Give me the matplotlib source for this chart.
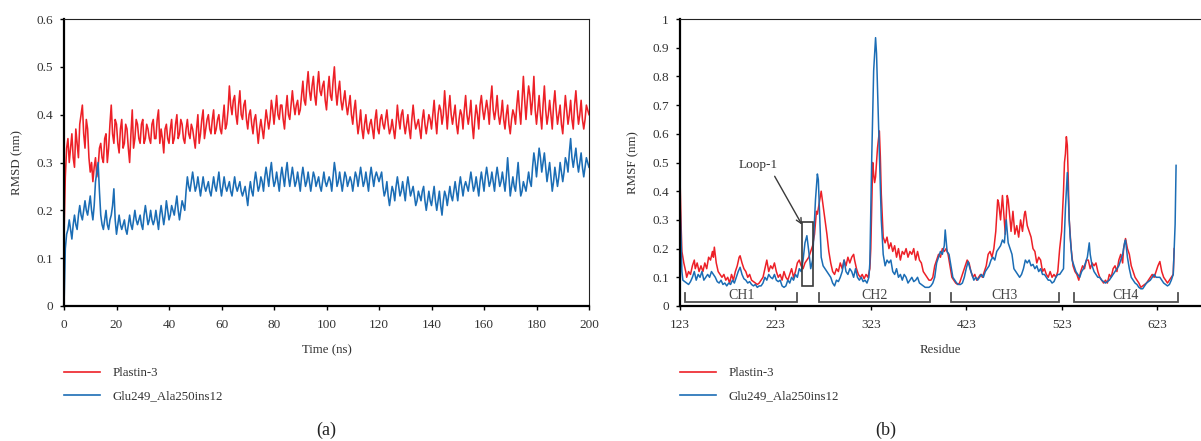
import matplotlib
matplotlib.use("Agg")
import matplotlib.pyplot as plt
from matplotlib.patches import Rectangle
import numpy as np

plt.rcParams['font.family'] = ['Liberation Serif', 'DejaVu Serif']

# ---------------- data: RMSD (panel a) ----------------
# values read at whole nanoseconds ...
time_ns = list(range(0, 201))
rmsd_wt = [0.15, 0.33, 0.30, 0.36, 0.29, 0.34, 0.38, 0.42, 0.33, 0.37,
           0.28, 0.26, 0.31, 0.29, 0.34, 0.30, 0.36, 0.33, 0.42, 0.34,
           0.38, 0.32, 0.39, 0.34, 0.37, 0.30, 0.41, 0.35, 0.38, 0.34,
           0.39, 0.35, 0.37, 0.34, 0.39, 0.35, 0.41, 0.37, 0.32, 0.38,
           0.34, 0.39, 0.35, 0.40, 0.36, 0.38, 0.34, 0.39, 0.35, 0.37,
           0.33, 0.40, 0.36, 0.41, 0.37, 0.40, 0.36, 0.41, 0.37, 0.40,
           0.36, 0.42, 0.38, 0.46, 0.40, 0.44, 0.38, 0.45, 0.39, 0.43,
           0.37, 0.41, 0.36, 0.40, 0.34, 0.39, 0.35, 0.41, 0.37, 0.43,
           0.38, 0.44, 0.39, 0.42, 0.37, 0.44, 0.39, 0.45, 0.40, 0.43,
           0.41, 0.47, 0.42, 0.49, 0.43, 0.48, 0.42, 0.49, 0.44, 0.47,
           0.41, 0.48, 0.43, 0.50, 0.42, 0.47, 0.41, 0.45, 0.40, 0.44,
           0.38, 0.43, 0.36, 0.41, 0.35, 0.40, 0.36, 0.39, 0.35, 0.41,
           0.36, 0.40, 0.37, 0.41, 0.36, 0.39, 0.35, 0.42, 0.37, 0.41,
           0.36, 0.40, 0.35, 0.42, 0.37, 0.39, 0.35, 0.41, 0.36, 0.40,
           0.37, 0.43, 0.36, 0.42, 0.38, 0.45, 0.37, 0.44, 0.38, 0.42,
           0.36, 0.41, 0.37, 0.44, 0.38, 0.43, 0.35, 0.42, 0.37, 0.44,
           0.39, 0.43, 0.38, 0.46, 0.39, 0.44, 0.38, 0.43, 0.37, 0.42,
           0.36, 0.41, 0.38, 0.45, 0.38, 0.48, 0.39, 0.46, 0.40, 0.48,
           0.38, 0.44, 0.37, 0.46, 0.38, 0.43, 0.37, 0.45, 0.38, 0.42,
           0.36, 0.44, 0.38, 0.43, 0.37, 0.45, 0.38, 0.43, 0.37, 0.42,
           0.40]
rmsd_mut = [0.00, 0.15, 0.18, 0.14, 0.19, 0.16, 0.21, 0.18, 0.22, 0.19,
            0.23, 0.18, 0.26, 0.30, 0.19, 0.16, 0.20, 0.16, 0.19, 0.245,
            0.15, 0.19, 0.16, 0.18, 0.15, 0.19, 0.16, 0.20, 0.17, 0.19,
            0.16, 0.21, 0.17, 0.20, 0.17, 0.20, 0.16, 0.21, 0.17, 0.22,
            0.18, 0.21, 0.19, 0.23, 0.18, 0.22, 0.20, 0.27, 0.24, 0.28,
            0.24, 0.27, 0.23, 0.27, 0.24, 0.26, 0.23, 0.27, 0.24, 0.28,
            0.23, 0.27, 0.24, 0.26, 0.23, 0.27, 0.24, 0.26, 0.23, 0.25,
            0.21, 0.26, 0.23, 0.28, 0.24, 0.27, 0.24, 0.29, 0.25, 0.30,
            0.25, 0.28, 0.24, 0.29, 0.25, 0.30, 0.25, 0.29, 0.25, 0.28,
            0.24, 0.29, 0.25, 0.28, 0.24, 0.28, 0.25, 0.27, 0.24, 0.28,
            0.25, 0.27, 0.24, 0.30, 0.25, 0.28, 0.24, 0.28, 0.25, 0.27,
            0.24, 0.28, 0.25, 0.29, 0.25, 0.28, 0.24, 0.29, 0.25, 0.28,
            0.26, 0.28, 0.23, 0.26, 0.21, 0.25, 0.22, 0.27, 0.23, 0.26,
            0.22, 0.27, 0.23, 0.25, 0.21, 0.24, 0.22, 0.25, 0.20, 0.24,
            0.21, 0.25, 0.20, 0.24, 0.19, 0.24, 0.21, 0.25, 0.22, 0.26,
            0.22, 0.27, 0.23, 0.26, 0.24, 0.28, 0.24, 0.27, 0.23, 0.28,
            0.24, 0.29, 0.25, 0.28, 0.24, 0.29, 0.25, 0.28, 0.24, 0.31,
            0.23, 0.27, 0.24, 0.30, 0.23, 0.26, 0.24, 0.28, 0.25, 0.32,
            0.27, 0.33, 0.28, 0.32, 0.26, 0.30, 0.24, 0.29, 0.25, 0.30,
            0.26, 0.31, 0.28, 0.35, 0.29, 0.33, 0.28, 0.32, 0.27, 0.31,
            0.29]
# ... and at the half nanoseconds in between
time_half = [t + 0.5 for t in range(0, 200)]
rmsd_wt_half = [0.27, 0.35, 0.33, 0.31, 0.37, 0.31, 0.40, 0.36, 0.39, 0.31,
                0.30, 0.29, 0.27, 0.33, 0.31, 0.35, 0.30, 0.38, 0.36, 0.39,
                0.34, 0.37, 0.33, 0.38, 0.33, 0.36, 0.33, 0.39, 0.35, 0.38,
                0.34, 0.38, 0.35, 0.38, 0.35, 0.39, 0.34, 0.35, 0.37, 0.35,
                0.37, 0.34, 0.38, 0.35, 0.39, 0.35, 0.37, 0.36, 0.38, 0.35,
                0.37, 0.34, 0.39, 0.35, 0.39, 0.37, 0.39, 0.36, 0.39, 0.37,
                0.39, 0.37, 0.41, 0.42, 0.43, 0.40, 0.42, 0.40, 0.42, 0.39,
                0.40, 0.38, 0.39, 0.37, 0.37, 0.37, 0.38, 0.39, 0.39, 0.41,
                0.41, 0.40, 0.42, 0.39, 0.41, 0.40, 0.42, 0.42, 0.42, 0.40,
                0.44, 0.43, 0.46, 0.45, 0.46, 0.44, 0.46, 0.45, 0.46, 0.43,
                0.45, 0.44, 0.47, 0.45, 0.45, 0.43, 0.43, 0.42, 0.42, 0.40,
                0.41, 0.39, 0.38, 0.37, 0.38, 0.37, 0.38, 0.37, 0.39, 0.37,
                0.39, 0.38, 0.39, 0.38, 0.37, 0.37, 0.38, 0.39, 0.40, 0.38,
                0.38, 0.37, 0.39, 0.39, 0.38, 0.37, 0.39, 0.38, 0.38, 0.39,
                0.40, 0.39, 0.40, 0.41, 0.40, 0.41, 0.41, 0.40, 0.40, 0.38,
                0.39, 0.40, 0.41, 0.40, 0.40, 0.38, 0.39, 0.40, 0.42, 0.41,
                0.41, 0.41, 0.43, 0.41, 0.41, 0.40, 0.40, 0.39, 0.40, 0.38,
                0.39, 0.40, 0.42, 0.41, 0.43, 0.43, 0.43, 0.44, 0.43, 0.41,
                0.41, 0.40, 0.42, 0.41, 0.40, 0.40, 0.42, 0.41, 0.40, 0.38,
                0.40, 0.41, 0.40, 0.39, 0.42, 0.41, 0.40, 0.39, 0.39, 0.41]
rmsd_mut_half = [0.12, 0.16, 0.16, 0.17, 0.17, 0.19, 0.19, 0.20, 0.20, 0.21,
                 0.20, 0.21, 0.28, 0.24, 0.17, 0.18, 0.17, 0.18, 0.21, 0.18,
                 0.17, 0.17, 0.17, 0.16, 0.17, 0.17, 0.18, 0.18, 0.18, 0.17,
                 0.19, 0.19, 0.18, 0.18, 0.18, 0.18, 0.19, 0.19, 0.19, 0.20,
                 0.19, 0.20, 0.21, 0.20, 0.20, 0.21, 0.24, 0.25, 0.26, 0.26,
                 0.25, 0.25, 0.25, 0.25, 0.25, 0.24, 0.25, 0.25, 0.26, 0.25,
                 0.25, 0.25, 0.25, 0.24, 0.25, 0.25, 0.25, 0.24, 0.24, 0.23,
                 0.24, 0.24, 0.26, 0.26, 0.25, 0.26, 0.27, 0.27, 0.28, 0.27,
                 0.26, 0.26, 0.27, 0.27, 0.28, 0.27, 0.27, 0.27, 0.26, 0.26,
                 0.27, 0.27, 0.26, 0.26, 0.26, 0.27, 0.26, 0.25, 0.26, 0.26,
                 0.26, 0.26, 0.27, 0.28, 0.26, 0.26, 0.26, 0.27, 0.26, 0.26,
                 0.26, 0.27, 0.27, 0.27, 0.26, 0.26, 0.27, 0.27, 0.27, 0.27,
                 0.27, 0.25, 0.24, 0.23, 0.23, 0.24, 0.25, 0.25, 0.24, 0.24,
                 0.25, 0.25, 0.24, 0.23, 0.22, 0.23, 0.24, 0.22, 0.22, 0.22,
                 0.23, 0.22, 0.22, 0.21, 0.22, 0.23, 0.23, 0.23, 0.24, 0.24,
                 0.25, 0.25, 0.25, 0.25, 0.26, 0.26, 0.25, 0.25, 0.26, 0.26,
                 0.27, 0.27, 0.26, 0.26, 0.27, 0.27, 0.26, 0.26, 0.27, 0.27,
                 0.25, 0.25, 0.27, 0.26, 0.24, 0.25, 0.26, 0.26, 0.29, 0.30,
                 0.30, 0.31, 0.30, 0.29, 0.28, 0.27, 0.26, 0.27, 0.27, 0.28,
                 0.28, 0.30, 0.32, 0.31, 0.31, 0.30, 0.30, 0.29, 0.29, 0.30]

# ---------------- data: RMSF (panel b) ----------------
res_wt = [123, 124, 125, 127, 129, 130, 132, 134, 136, 138, 139, 141, 143, 145, 147, 149,
          151, 153, 155, 157, 158, 159, 161, 163, 165, 167, 169, 171, 173, 175, 177, 179,
          181, 183, 185, 186, 188, 190, 192, 194, 196, 198, 200, 202, 204, 206, 208, 210,
          212, 214, 216, 218, 220, 222, 224, 226, 228, 230, 232, 234, 236, 238, 240, 242,
          244, 246, 248, 250, 252, 254, 256, 258, 260, 262, 264, 266, 267, 269, 271, 273,
          275, 277, 279, 281, 283, 285, 287, 289, 291, 293, 295, 297, 299, 301, 303, 305,
          306, 308, 310, 312, 314, 316, 318, 320, 322, 323, 324, 325, 326, 327, 328, 330,
          332, 333, 334, 336, 338, 340, 342, 344, 346, 348, 350, 352, 354, 356, 358, 360,
          362, 364, 366, 368, 370, 372, 374, 376, 378, 380, 382, 384, 386, 388, 390, 392,
          394, 396, 398, 400, 402, 404, 406, 408, 410, 412, 414, 416, 418, 420, 422, 424,
          426, 428, 430, 432, 434, 436, 438, 440, 442, 444, 446, 448, 450, 452, 454, 456,
          457, 459, 461, 462, 464, 466, 467, 469, 470, 472, 474, 476, 478, 480, 482, 484,
          485, 487, 489, 491, 493, 495, 497, 499, 501, 503, 505, 507, 509, 511, 513, 515,
          517, 519, 521, 523, 525, 526, 527, 528, 529, 530, 531, 533, 535, 537, 539, 541,
          543, 545, 547, 549, 551, 553, 555, 557, 559, 561, 563, 565, 567, 569, 571, 573,
          575, 577, 579, 581, 583, 585, 587, 588, 590, 592, 594, 596, 598, 600, 602, 604,
          606, 608, 610, 612, 614, 616, 618, 620, 622, 624, 626, 628, 630, 632, 634, 636,
          638, 640, 641]
rmsf_wt = [0.45, 0.30, 0.19, 0.15, 0.12, 0.10, 0.12, 0.11, 0.14, 0.16, 0.13, 0.15, 0.12, 0.14, 0.12, 0.15,
           0.13, 0.17, 0.16, 0.19, 0.17, 0.205, 0.15, 0.12, 0.11, 0.10, 0.11, 0.09, 0.10, 0.08, 0.11, 0.09,
           0.12, 0.14, 0.17, 0.175, 0.15, 0.13, 0.12, 0.10, 0.11, 0.09, 0.085, 0.08, 0.075, 0.08, 0.09, 0.10,
           0.13, 0.16, 0.12, 0.14, 0.13, 0.15, 0.12, 0.10, 0.11, 0.09, 0.12, 0.10, 0.09, 0.11, 0.13, 0.10,
           0.12, 0.15, 0.16, 0.14, 0.13, 0.15, 0.16, 0.17, 0.19, 0.21, 0.25, 0.33, 0.32, 0.36, 0.40, 0.35,
           0.30, 0.25, 0.19, 0.15, 0.12, 0.11, 0.13, 0.12, 0.15, 0.13, 0.16, 0.14, 0.17, 0.15, 0.17, 0.18,
           0.16, 0.13, 0.11, 0.10, 0.11, 0.095, 0.11, 0.10, 0.13, 0.20, 0.35, 0.50, 0.46, 0.43, 0.45, 0.55,
           0.61, 0.52, 0.39, 0.24, 0.22, 0.24, 0.20, 0.22, 0.19, 0.21, 0.17, 0.20, 0.16, 0.19, 0.18, 0.20,
           0.17, 0.19, 0.18, 0.20, 0.16, 0.19, 0.16, 0.15, 0.12, 0.11, 0.10, 0.09, 0.09, 0.10, 0.14, 0.16,
           0.18, 0.17, 0.20, 0.19, 0.20, 0.18, 0.14, 0.10, 0.09, 0.08, 0.075, 0.08, 0.10, 0.12, 0.14, 0.16,
           0.15, 0.12, 0.10, 0.11, 0.09, 0.10, 0.11, 0.10, 0.12, 0.14, 0.18, 0.19, 0.17, 0.20, 0.26, 0.37,
           0.36, 0.30, 0.385, 0.34, 0.25, 0.385, 0.37, 0.30, 0.26, 0.33, 0.25, 0.28, 0.24, 0.30, 0.26, 0.32,
           0.33, 0.28, 0.26, 0.24, 0.20, 0.19, 0.15, 0.17, 0.16, 0.12, 0.13, 0.11, 0.10, 0.12, 0.10, 0.11,
           0.10, 0.12, 0.20, 0.26, 0.40, 0.50, 0.53, 0.59, 0.56, 0.44, 0.30, 0.20, 0.14, 0.12, 0.11, 0.09,
           0.12, 0.14, 0.13, 0.16, 0.16, 0.13, 0.15, 0.14, 0.15, 0.12, 0.10, 0.09, 0.08, 0.09, 0.08, 0.11,
           0.10, 0.13, 0.14, 0.12, 0.16, 0.18, 0.15, 0.20, 0.235, 0.20, 0.18, 0.14, 0.12, 0.10, 0.09, 0.08,
           0.065, 0.07, 0.075, 0.08, 0.09, 0.10, 0.11, 0.10, 0.12, 0.14, 0.155, 0.12, 0.10, 0.09, 0.08, 0.09,
           0.10, 0.11, 0.20]

res_mut = [123, 124, 125, 126, 128, 130, 132, 134, 136, 138, 140, 142, 144, 146, 148, 150,
           152, 154, 156, 158, 160, 162, 164, 166, 168, 170, 172, 174, 176, 178, 180, 182,
           184, 186, 188, 190, 192, 194, 196, 198, 200, 202, 204, 206, 208, 210, 212, 214,
           216, 218, 220, 222, 224, 226, 228, 230, 232, 234, 236, 238, 240, 242, 244, 246,
           248, 250, 252, 254, 256, 258, 260, 262, 264, 265, 267, 268, 270, 271, 273, 275,
           277, 279, 281, 283, 285, 287, 289, 291, 293, 295, 297, 299, 301, 303, 305, 307,
           309, 311, 313, 315, 317, 319, 321, 322, 324, 326, 328, 329, 330, 332, 334, 336,
           338, 340, 342, 344, 346, 348, 350, 352, 354, 356, 358, 360, 362, 364, 366, 368,
           370, 372, 374, 376, 378, 380, 382, 384, 386, 388, 390, 392, 394, 396, 398, 400,
           401, 403, 405, 407, 409, 411, 413, 415, 417, 419, 421, 423, 425, 427, 429, 431,
           433, 435, 437, 439, 441, 443, 445, 447, 449, 451, 453, 455, 457, 459, 461, 463,
           465, 467, 469, 471, 473, 475, 477, 479, 481, 483, 485, 487, 489, 491, 493, 495,
           497, 499, 501, 503, 505, 507, 509, 511, 513, 515, 517, 519, 521, 523, 525, 526,
           527, 529, 530, 531, 532, 534, 536, 538, 540, 542, 544, 546, 548, 550, 552, 553,
           555, 557, 559, 561, 563, 565, 567, 569, 571, 573, 575, 577, 579, 581, 583, 585,
           587, 589, 590, 592, 594, 596, 598, 600, 602, 604, 606, 608, 610, 612, 614, 616,
           618, 620, 622, 624, 626, 628, 630, 632, 634, 636, 638, 640, 642, 643]
rmsf_mut = [0.37, 0.25, 0.12, 0.09, 0.085, 0.08, 0.075, 0.085, 0.10, 0.12, 0.09, 0.11, 0.10, 0.12, 0.09, 0.10,
            0.11, 0.10, 0.12, 0.11, 0.10, 0.085, 0.08, 0.09, 0.075, 0.08, 0.07, 0.08, 0.075, 0.09, 0.08, 0.10,
            0.12, 0.135, 0.11, 0.095, 0.09, 0.08, 0.085, 0.075, 0.07, 0.075, 0.065, 0.07, 0.07, 0.08, 0.10, 0.09,
            0.11, 0.10, 0.095, 0.11, 0.09, 0.085, 0.09, 0.07, 0.065, 0.07, 0.09, 0.08, 0.10, 0.09, 0.11, 0.10,
            0.13, 0.12, 0.16, 0.22, 0.245, 0.19, 0.13, 0.16, 0.30, 0.37, 0.46, 0.44, 0.26, 0.17, 0.14, 0.13,
            0.12, 0.11, 0.10, 0.08, 0.07, 0.09, 0.085, 0.10, 0.12, 0.16, 0.12, 0.11, 0.13, 0.12, 0.10, 0.13,
            0.10, 0.09, 0.10, 0.085, 0.09, 0.08, 0.10, 0.15, 0.52, 0.82, 0.935, 0.88, 0.76, 0.53, 0.30, 0.18,
            0.14, 0.16, 0.15, 0.16, 0.12, 0.11, 0.13, 0.10, 0.11, 0.09, 0.11, 0.10, 0.08, 0.09, 0.10, 0.085,
            0.09, 0.10, 0.08, 0.075, 0.07, 0.065, 0.065, 0.065, 0.07, 0.08, 0.10, 0.15, 0.17, 0.19, 0.18, 0.21,
            0.265, 0.19, 0.18, 0.14, 0.10, 0.09, 0.08, 0.075, 0.075, 0.08, 0.10, 0.13, 0.155, 0.13, 0.11, 0.09,
            0.10, 0.09, 0.10, 0.11, 0.10, 0.12, 0.13, 0.14, 0.16, 0.17, 0.16, 0.19, 0.20, 0.21, 0.23, 0.22,
            0.30, 0.22, 0.20, 0.18, 0.13, 0.12, 0.11, 0.10, 0.11, 0.13, 0.16, 0.15, 0.16, 0.14, 0.145, 0.13,
            0.14, 0.12, 0.13, 0.11, 0.11, 0.10, 0.09, 0.09, 0.08, 0.085, 0.10, 0.11, 0.11, 0.12, 0.13, 0.25,
            0.34, 0.465, 0.38, 0.30, 0.24, 0.16, 0.14, 0.12, 0.11, 0.10, 0.12, 0.13, 0.15, 0.17, 0.22, 0.18,
            0.14, 0.12, 0.11, 0.10, 0.10, 0.09, 0.085, 0.08, 0.085, 0.09, 0.10, 0.11, 0.12, 0.13, 0.14, 0.16,
            0.18, 0.22, 0.23, 0.17, 0.13, 0.10, 0.09, 0.08, 0.075, 0.065, 0.06, 0.06, 0.07, 0.08, 0.085, 0.09,
            0.10, 0.11, 0.10, 0.10, 0.10, 0.09, 0.08, 0.075, 0.07, 0.075, 0.09, 0.11, 0.285, 0.49]

series_labels = ['Plastin-3', 'Glu249_Ala250ins12']
domain_names = ['CH1', 'CH2', 'CH3', 'CH4']
domain_start = [128.6, 268.3, 406.8, 536.1]
domain_end = [245.5, 385.2, 520.5, 644.6]
residue_ticks = [123, 223, 323, 423, 523, 623]


def interleave(a, b):
    out = []
    for i in range(len(b)):
        out.append(a[i])
        out.append(b[i])
    out.extend(a[len(b):])
    return out


t_all = interleave(time_ns, time_half)
wt_all = interleave(rmsd_wt, rmsd_wt_half)
mut_all = interleave(rmsd_mut, rmsd_mut_half)

RED = '#ED2027'
BLUE = '#1B6DB5'
DARK = '#3a3a3a'

fig = plt.figure(figsize=(12.01, 4.41), dpi=100)
W, H = 1201.0, 441.0


def style_axes(ax, right=True):
    for s in ['left', 'bottom']:
        ax.spines[s].set_linewidth(1.6)
        ax.spines[s].set_color('black')
    ax.spines['top'].set_linewidth(0.8)
    ax.spines['top'].set_color('#222222')
    if right:
        ax.spines['right'].set_linewidth(0.8)
        ax.spines['right'].set_color('#222222')
    else:
        ax.spines['right'].set_visible(False)
    ax.tick_params(axis='y', direction='out', length=3, width=1.0, labelsize=9.5, pad=5,
                   colors='black', labelcolor='#333333')
    ax.tick_params(axis='x', direction='out', length=3, width=1.0, labelsize=9.5, pad=6,
                   colors='black', labelcolor='#333333')


LEG = dict(loc='upper left', bbox_to_anchor=(0.0, -0.214), frameon=False,
           fontsize=9.3, handlelength=2.75, handletextpad=1.0, labelspacing=0.85,
           borderpad=0, borderaxespad=0, labelcolor='#333333')

# ---------- panel (a) ----------
axA = fig.add_axes([64 / W, (H - 306) / H, (589 - 64) / W, (306 - 19) / H])
axA.plot(t_all, wt_all, color=RED, lw=1.15, label=series_labels[0])
axA.plot(t_all, mut_all, color=BLUE, lw=1.15, label=series_labels[1])
axA.set_xlim(0, 200)
axA.set_ylim(0, 0.6)
axA.set_xticks(range(0, 201, 20))
axA.set_yticks([0, 0.1, 0.2, 0.3, 0.4, 0.5, 0.6])
axA.set_yticklabels(['0', '0.1', '0.2', '0.3', '0.4', '0.5', '0.6'])
style_axes(axA, right=True)
axA.set_xlabel('Time (ns)', fontsize=9.3, color='#333333', labelpad=10)
axA.set_ylabel('RMSD (nm)', fontsize=9.3, color='#333333', labelpad=9)
leg = axA.legend(**LEG)
for l in leg.get_lines():
    l.set_linewidth(1.2)
fig.text(326 / W, 1 - 430 / H, '(a)', ha='center', va='center', fontsize=13, color='#222222')

# ---------- panel (b) ----------
axB = fig.add_axes([680 / W, (H - 306) / H, (W - 680) / W, (306 - 19) / H])
axB.plot(res_wt, rmsf_wt, color=RED, lw=1.1, label=series_labels[0])
axB.plot(res_mut, rmsf_mut, color=BLUE, lw=1.1, label=series_labels[1])
axB.set_xlim(123, 123 + (W - 680) / 0.954)
axB.set_ylim(0, 1.0)
axB.set_xticks(residue_ticks)
axB.set_yticks([i / 10 for i in range(11)])
axB.set_yticklabels(['0', '0.1', '0.2', '0.3', '0.4', '0.5', '0.6', '0.7', '0.8', '0.9', '1'])
style_axes(axB, right=False)
axB.set_xlabel('Residue', fontsize=9.3, color='#333333', labelpad=10)
axB.set_ylabel('RMSF (nm)', fontsize=9.3, color='#333333', labelpad=9)
leg = axB.legend(**LEG)
for l in leg.get_lines():
    l.set_linewidth(1.2)
fig.text(886 / W, 1 - 430 / H, '(b)', ha='center', va='center', fontsize=13, color='#222222')

# domain brackets
for name, a, b in zip(domain_names, domain_start, domain_end):
    axB.plot([a, a, b, b], [0.045, 0.013, 0.013, 0.045], color='#505050', lw=1.3,
             solid_joinstyle='miter')
    axB.text((a + b) / 2, 0.036, name, ha='center', va='center', fontsize=10, color='#444444')

# Loop-1 box and arrow
axB.add_patch(Rectangle((250.9, 0.071), 262.4 - 250.9, 0.294 - 0.071, fill=False,
                        edgecolor=DARK, lw=1.2, zorder=5))
axB.annotate('Loop-1', xy=(250.9, 0.283), xytext=(204.8, 0.491), ha='center', va='center',
             fontsize=9.5, color='#333333',
             arrowprops=dict(arrowstyle='->', color=DARK, lw=1.0, relpos=(0.85, 0.0),
                             shrinkA=2, shrinkB=0))

fig.savefig('out.png', dpi=100)
